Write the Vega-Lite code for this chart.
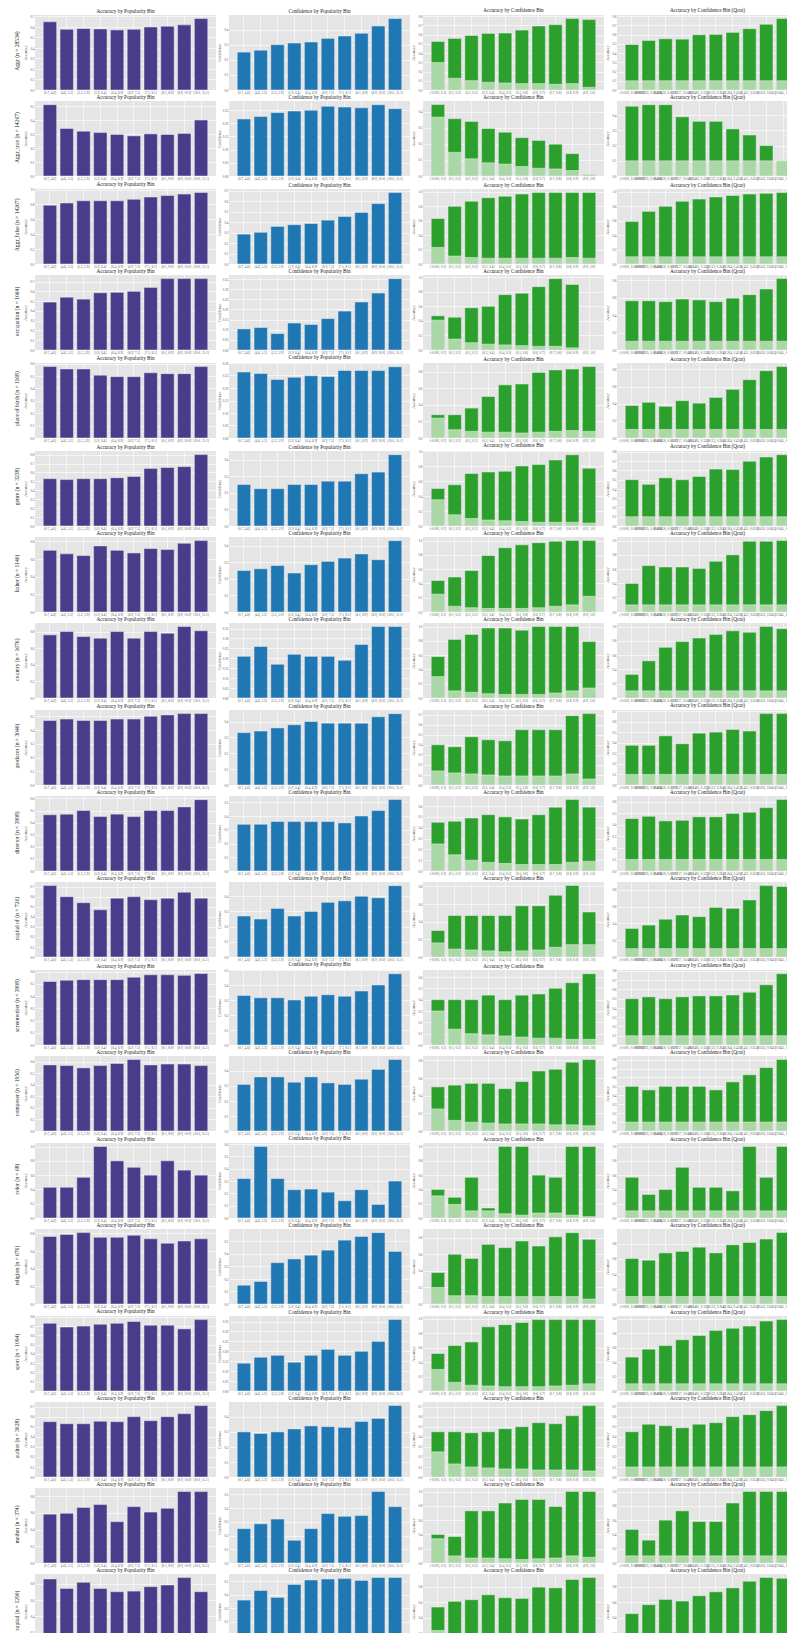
{"$schema":"https://vega.github.io/schema/vega-lite/v6.json","padding":{"left":15,"top":8,"right":0,"bottom":0},"params":[{"name":"popL","value":["(0.7, 4.6]","(4.6, 5.3]","(5.3, 5.9]","(5.9, 6.4]","(6.4, 6.9]","(6.9, 7.5]","(7.5, 8.1]","(8.1, 8.9]","(8.9, 10.0]","(10.0, 15.1]"]},{"name":"confL","value":["(-0.001, 0.1]","(0.1, 0.2]","(0.2, 0.3]","(0.3, 0.4]","(0.4, 0.5]","(0.5, 0.6]","(0.6, 0.7]","(0.7, 0.8]","(0.8, 0.9]","(0.9, 1.0]"]},{"name":"qL","value":["(-0.001, 0.000935]","(0.000935, 0.00418]","(0.00418, 0.0157]","(0.0157, 0.0485]","(0.0485, 0.123]","(0.123, 0.264]","(0.264, 0.451]","(0.451, 0.652]","(0.652, 0.845]","(0.845, 1.0]"]}],
"data":{"values":[
{"r":1,"p":1,"i":0,"v":0.649},{"r":1,"p":1,"i":1,"v":0.578},{"r":1,"p":1,"i":2,"v":0.585},{"r":1,"p":1,"i":3,"v":0.581},{"r":1,"p":1,"i":4,"v":0.572},{"r":1,"p":1,"i":5,"v":0.578},{"r":1,"p":1,"i":6,"v":0.600},{"r":1,"p":1,"i":7,"v":0.607},{"r":1,"p":1,"i":8,"v":0.620},{"r":1,"p":1,"i":9,"v":0.680},
{"r":1,"p":2,"i":0,"v":0.251},{"r":1,"p":2,"i":1,"v":0.264},{"r":1,"p":2,"i":2,"v":0.300},{"r":1,"p":2,"i":3,"v":0.311},{"r":1,"p":2,"i":4,"v":0.318},{"r":1,"p":2,"i":5,"v":0.342},{"r":1,"p":2,"i":6,"v":0.358},{"r":1,"p":2,"i":7,"v":0.376},{"r":1,"p":2,"i":8,"v":0.424},{"r":1,"p":2,"i":9,"v":0.473},
{"r":1,"p":3,"i":0,"v":0.525,"f":0.297},{"r":1,"p":3,"i":1,"v":0.558,"f":0.127},{"r":1,"p":3,"i":2,"v":0.590,"f":0.101},{"r":1,"p":3,"i":3,"v":0.612,"f":0.083},{"r":1,"p":3,"i":4,"v":0.616,"f":0.076},{"r":1,"p":3,"i":5,"v":0.648,"f":0.069},{"r":1,"p":3,"i":6,"v":0.692,"f":0.069},{"r":1,"p":3,"i":7,"v":0.706,"f":0.062},{"r":1,"p":3,"i":8,"v":0.772,"f":0.069},{"r":1,"p":3,"i":9,"v":0.761,"f":0.029},
{"r":1,"p":4,"i":0,"v":0.492,"f":0.1},{"r":1,"p":4,"i":1,"v":0.536,"f":0.1},{"r":1,"p":4,"i":2,"v":0.554,"f":0.1},{"r":1,"p":4,"i":3,"v":0.550,"f":0.1},{"r":1,"p":4,"i":4,"v":0.597,"f":0.1},{"r":1,"p":4,"i":5,"v":0.601,"f":0.1},{"r":1,"p":4,"i":6,"v":0.623,"f":0.1},{"r":1,"p":4,"i":7,"v":0.663,"f":0.1},{"r":1,"p":4,"i":8,"v":0.710,"f":0.1},{"r":1,"p":4,"i":9,"v":0.772,"f":0.1},
{"r":2,"p":1,"i":0,"v":0.510},{"r":2,"p":1,"i":1,"v":0.340},{"r":2,"p":1,"i":2,"v":0.320},{"r":2,"p":1,"i":3,"v":0.310},{"r":2,"p":1,"i":4,"v":0.297},{"r":2,"p":1,"i":5,"v":0.287},{"r":2,"p":1,"i":6,"v":0.301},{"r":2,"p":1,"i":7,"v":0.297},{"r":2,"p":1,"i":8,"v":0.304},{"r":2,"p":1,"i":9,"v":0.400},
{"r":2,"p":2,"i":0,"v":0.216},{"r":2,"p":2,"i":1,"v":0.225},{"r":2,"p":2,"i":2,"v":0.240},{"r":2,"p":2,"i":3,"v":0.246},{"r":2,"p":2,"i":4,"v":0.249},{"r":2,"p":2,"i":5,"v":0.264},{"r":2,"p":2,"i":6,"v":0.261},{"r":2,"p":2,"i":7,"v":0.258},{"r":2,"p":2,"i":8,"v":0.270},{"r":2,"p":2,"i":9,"v":0.255},
{"r":2,"p":3,"i":0,"v":0.444,"f":0.366},{"r":2,"p":3,"i":1,"v":0.356,"f":0.147},{"r":2,"p":3,"i":2,"v":0.339,"f":0.107},{"r":2,"p":3,"i":3,"v":0.295,"f":0.082},{"r":2,"p":3,"i":4,"v":0.272,"f":0.074},{"r":2,"p":3,"i":5,"v":0.238,"f":0.059},{"r":2,"p":3,"i":6,"v":0.221,"f":0.048},{"r":2,"p":3,"i":7,"v":0.198,"f":0.044},{"r":2,"p":3,"i":8,"v":0.139,"f":0.034},{"r":2,"p":3,"i":9,"v":0.008,"f":0.010},
{"r":2,"p":4,"i":0,"v":0.46,"f":0.1},{"r":2,"p":4,"i":1,"v":0.47,"f":0.1},{"r":2,"p":4,"i":2,"v":0.47,"f":0.1},{"r":2,"p":4,"i":3,"v":0.39,"f":0.1},{"r":2,"p":4,"i":4,"v":0.36,"f":0.1},{"r":2,"p":4,"i":5,"v":0.36,"f":0.1},{"r":2,"p":4,"i":6,"v":0.31,"f":0.1},{"r":2,"p":4,"i":7,"v":0.27,"f":0.1},{"r":2,"p":4,"i":8,"v":0.20,"f":0.1},{"r":2,"p":4,"i":9,"v":0.09,"f":0.1},
{"r":3,"p":1,"i":0,"v":0.79},{"r":3,"p":1,"i":1,"v":0.82},{"r":3,"p":1,"i":2,"v":0.85},{"r":3,"p":1,"i":3,"v":0.85},{"r":3,"p":1,"i":4,"v":0.85},{"r":3,"p":1,"i":5,"v":0.87},{"r":3,"p":1,"i":6,"v":0.90},{"r":3,"p":1,"i":7,"v":0.92},{"r":3,"p":1,"i":8,"v":0.94},{"r":3,"p":1,"i":9,"v":0.96},
{"r":3,"p":2,"i":0,"v":0.286},{"r":3,"p":2,"i":1,"v":0.303},{"r":3,"p":2,"i":2,"v":0.360},{"r":3,"p":2,"i":3,"v":0.376},{"r":3,"p":2,"i":4,"v":0.387},{"r":3,"p":2,"i":5,"v":0.420},{"r":3,"p":2,"i":6,"v":0.455},{"r":3,"p":2,"i":7,"v":0.494},{"r":3,"p":2,"i":8,"v":0.578},{"r":3,"p":2,"i":9,"v":0.684},
{"r":3,"p":3,"i":0,"v":0.63,"f":0.23},{"r":3,"p":3,"i":1,"v":0.80,"f":0.11},{"r":3,"p":3,"i":2,"v":0.87,"f":0.09},{"r":3,"p":3,"i":3,"v":0.92,"f":0.08},{"r":3,"p":3,"i":4,"v":0.94,"f":0.08},{"r":3,"p":3,"i":5,"v":0.97,"f":0.08},{"r":3,"p":3,"i":6,"v":0.99,"f":0.08},{"r":3,"p":3,"i":7,"v":0.99,"f":0.08},{"r":3,"p":3,"i":8,"v":0.99,"f":0.09},{"r":3,"p":3,"i":9,"v":0.99,"f":0.08},
{"r":3,"p":4,"i":0,"v":0.59,"f":0.1},{"r":3,"p":4,"i":1,"v":0.73,"f":0.1},{"r":3,"p":4,"i":2,"v":0.80,"f":0.1},{"r":3,"p":4,"i":3,"v":0.87,"f":0.1},{"r":3,"p":4,"i":4,"v":0.90,"f":0.1},{"r":3,"p":4,"i":5,"v":0.93,"f":0.1},{"r":3,"p":4,"i":6,"v":0.95,"f":0.1},{"r":3,"p":4,"i":7,"v":0.97,"f":0.1},{"r":3,"p":4,"i":8,"v":0.98,"f":0.1},{"r":3,"p":4,"i":9,"v":0.99,"f":0.1},
{"r":4,"p":1,"i":0,"v":0.49},{"r":4,"p":1,"i":1,"v":0.54},{"r":4,"p":1,"i":2,"v":0.52},{"r":4,"p":1,"i":3,"v":0.585},{"r":4,"p":1,"i":4,"v":0.59},{"r":4,"p":1,"i":5,"v":0.60},{"r":4,"p":1,"i":6,"v":0.64},{"r":4,"p":1,"i":7,"v":0.73},{"r":4,"p":1,"i":8,"v":0.73},{"r":4,"p":1,"i":9,"v":0.73},
{"r":4,"p":2,"i":0,"v":0.104},{"r":4,"p":2,"i":1,"v":0.111},{"r":4,"p":2,"i":2,"v":0.081},{"r":4,"p":2,"i":3,"v":0.133},{"r":4,"p":2,"i":4,"v":0.126},{"r":4,"p":2,"i":5,"v":0.155},{"r":4,"p":2,"i":6,"v":0.192},{"r":4,"p":2,"i":7,"v":0.237},{"r":4,"p":2,"i":8,"v":0.281},{"r":4,"p":2,"i":9,"v":0.352},
{"r":4,"p":3,"i":0,"v":0.47,"f":0.41},{"r":4,"p":3,"i":1,"v":0.45,"f":0.15},{"r":4,"p":3,"i":2,"v":0.58,"f":0.10},{"r":4,"p":3,"i":3,"v":0.60,"f":0.08},{"r":4,"p":3,"i":4,"v":0.76,"f":0.07},{"r":4,"p":3,"i":5,"v":0.78,"f":0.06},{"r":4,"p":3,"i":6,"v":0.87,"f":0.05},{"r":4,"p":3,"i":7,"v":0.98,"f":0.05},{"r":4,"p":3,"i":8,"v":0.90,"f":0.03},{"r":4,"p":3,"i":9,"v":0,"f":0},
{"r":4,"p":4,"i":0,"v":0.565,"f":0.1},{"r":4,"p":4,"i":1,"v":0.565,"f":0.1},{"r":4,"p":4,"i":2,"v":0.555,"f":0.1},{"r":4,"p":4,"i":3,"v":0.585,"f":0.1},{"r":4,"p":4,"i":4,"v":0.575,"f":0.1},{"r":4,"p":4,"i":5,"v":0.555,"f":0.1},{"r":4,"p":4,"i":6,"v":0.595,"f":0.1},{"r":4,"p":4,"i":7,"v":0.635,"f":0.1},{"r":4,"p":4,"i":8,"v":0.70,"f":0.1},{"r":4,"p":4,"i":9,"v":0.82,"f":0.1},
{"r":5,"p":1,"i":0,"v":0.577},{"r":5,"p":1,"i":1,"v":0.558},{"r":5,"p":1,"i":2,"v":0.558},{"r":5,"p":1,"i":3,"v":0.508},{"r":5,"p":1,"i":4,"v":0.496},{"r":5,"p":1,"i":5,"v":0.496},{"r":5,"p":1,"i":6,"v":0.527},{"r":5,"p":1,"i":7,"v":0.52},{"r":5,"p":1,"i":8,"v":0.52},{"r":5,"p":1,"i":9,"v":0.577},
{"r":5,"p":2,"i":0,"v":0.264},{"r":5,"p":2,"i":1,"v":0.258},{"r":5,"p":2,"i":2,"v":0.234},{"r":5,"p":2,"i":3,"v":0.243},{"r":5,"p":2,"i":4,"v":0.249},{"r":5,"p":2,"i":5,"v":0.246},{"r":5,"p":2,"i":6,"v":0.27},{"r":5,"p":2,"i":7,"v":0.27},{"r":5,"p":2,"i":8,"v":0.27},{"r":5,"p":2,"i":9,"v":0.285},
{"r":5,"p":3,"i":0,"v":0.28,"f":0.24},{"r":5,"p":3,"i":1,"v":0.28,"f":0.10},{"r":5,"p":3,"i":2,"v":0.36,"f":0.08},{"r":5,"p":3,"i":3,"v":0.50,"f":0.07},{"r":5,"p":3,"i":4,"v":0.64,"f":0.07},{"r":5,"p":3,"i":5,"v":0.65,"f":0.06},{"r":5,"p":3,"i":6,"v":0.79,"f":0.07},{"r":5,"p":3,"i":7,"v":0.82,"f":0.08},{"r":5,"p":3,"i":8,"v":0.83,"f":0.09},{"r":5,"p":3,"i":9,"v":0.86,"f":0.08},
{"r":5,"p":4,"i":0,"v":0.378,"f":0.1},{"r":5,"p":4,"i":1,"v":0.416,"f":0.1},{"r":5,"p":4,"i":2,"v":0.369,"f":0.1},{"r":5,"p":4,"i":3,"v":0.435,"f":0.1},{"r":5,"p":4,"i":4,"v":0.406,"f":0.1},{"r":5,"p":4,"i":5,"v":0.473,"f":0.1},{"r":5,"p":4,"i":6,"v":0.567,"f":0.1},{"r":5,"p":4,"i":7,"v":0.68,"f":0.1},{"r":5,"p":4,"i":8,"v":0.784,"f":0.1},{"r":5,"p":4,"i":9,"v":0.832,"f":0.1},
{"r":6,"p":1,"i":0,"v":0.53},{"r":6,"p":1,"i":1,"v":0.52},{"r":6,"p":1,"i":2,"v":0.53},{"r":6,"p":1,"i":3,"v":0.53},{"r":6,"p":1,"i":4,"v":0.54},{"r":6,"p":1,"i":5,"v":0.555},{"r":6,"p":1,"i":6,"v":0.645},{"r":6,"p":1,"i":7,"v":0.655},{"r":6,"p":1,"i":8,"v":0.665},{"r":6,"p":1,"i":9,"v":0.80},
{"r":6,"p":2,"i":0,"v":0.25},{"r":6,"p":2,"i":1,"v":0.225},{"r":6,"p":2,"i":2,"v":0.225},{"r":6,"p":2,"i":3,"v":0.25},{"r":6,"p":2,"i":4,"v":0.25},{"r":6,"p":2,"i":5,"v":0.27},{"r":6,"p":2,"i":6,"v":0.27},{"r":6,"p":2,"i":7,"v":0.315},{"r":6,"p":2,"i":8,"v":0.325},{"r":6,"p":2,"i":9,"v":0.43},
{"r":6,"p":3,"i":0,"v":0.50,"f":0.35},{"r":6,"p":3,"i":1,"v":0.55,"f":0.15},{"r":6,"p":3,"i":2,"v":0.70,"f":0.10},{"r":6,"p":3,"i":3,"v":0.72,"f":0.08},{"r":6,"p":3,"i":4,"v":0.73,"f":0.07},{"r":6,"p":3,"i":5,"v":0.80,"f":0.06},{"r":6,"p":3,"i":6,"v":0.82,"f":0.05},{"r":6,"p":3,"i":7,"v":0.88,"f":0.05},{"r":6,"p":3,"i":8,"v":0.95,"f":0.05},{"r":6,"p":3,"i":9,"v":0.77,"f":0.04},
{"r":6,"p":4,"i":0,"v":0.50,"f":0.1},{"r":6,"p":4,"i":1,"v":0.45,"f":0.1},{"r":6,"p":4,"i":2,"v":0.52,"f":0.1},{"r":6,"p":4,"i":3,"v":0.50,"f":0.1},{"r":6,"p":4,"i":4,"v":0.535,"f":0.1},{"r":6,"p":4,"i":5,"v":0.615,"f":0.1},{"r":6,"p":4,"i":6,"v":0.61,"f":0.1},{"r":6,"p":4,"i":7,"v":0.70,"f":0.1},{"r":6,"p":4,"i":8,"v":0.745,"f":0.1},{"r":6,"p":4,"i":9,"v":0.77,"f":0.1},
{"r":7,"p":1,"i":0,"v":0.70},{"r":7,"p":1,"i":1,"v":0.66},{"r":7,"p":1,"i":2,"v":0.64},{"r":7,"p":1,"i":3,"v":0.75},{"r":7,"p":1,"i":4,"v":0.70},{"r":7,"p":1,"i":5,"v":0.67},{"r":7,"p":1,"i":6,"v":0.72},{"r":7,"p":1,"i":7,"v":0.71},{"r":7,"p":1,"i":8,"v":0.78},{"r":7,"p":1,"i":9,"v":0.81},
{"r":7,"p":2,"i":0,"v":0.25},{"r":7,"p":2,"i":1,"v":0.26},{"r":7,"p":2,"i":2,"v":0.28},{"r":7,"p":2,"i":3,"v":0.235},{"r":7,"p":2,"i":4,"v":0.285},{"r":7,"p":2,"i":5,"v":0.305},{"r":7,"p":2,"i":6,"v":0.325},{"r":7,"p":2,"i":7,"v":0.35},{"r":7,"p":2,"i":8,"v":0.315},{"r":7,"p":2,"i":9,"v":0.43},
{"r":7,"p":3,"i":0,"v":0.44,"f":0.25},{"r":7,"p":3,"i":1,"v":0.49,"f":0.08},{"r":7,"p":3,"i":2,"v":0.58,"f":0.06},{"r":7,"p":3,"i":3,"v":0.79,"f":0.05},{"r":7,"p":3,"i":4,"v":0.90,"f":0.05},{"r":7,"p":3,"i":5,"v":0.94,"f":0.05},{"r":7,"p":3,"i":6,"v":0.97,"f":0.06},{"r":7,"p":3,"i":7,"v":0.99,"f":0.08},{"r":7,"p":3,"i":8,"v":1.0,"f":0.1},{"r":7,"p":3,"i":9,"v":1.0,"f":0.22},
{"r":7,"p":4,"i":0,"v":0.40,"f":0.1},{"r":7,"p":4,"i":1,"v":0.65,"f":0.1},{"r":7,"p":4,"i":2,"v":0.63,"f":0.1},{"r":7,"p":4,"i":3,"v":0.63,"f":0.1},{"r":7,"p":4,"i":4,"v":0.61,"f":0.1},{"r":7,"p":4,"i":5,"v":0.71,"f":0.1},{"r":7,"p":4,"i":6,"v":0.80,"f":0.1},{"r":7,"p":4,"i":7,"v":0.99,"f":0.1},{"r":7,"p":4,"i":8,"v":0.99,"f":0.1},{"r":7,"p":4,"i":9,"v":1.0,"f":0.1},
{"r":8,"p":1,"i":0,"v":0.76},{"r":8,"p":1,"i":1,"v":0.80},{"r":8,"p":1,"i":2,"v":0.74},{"r":8,"p":1,"i":3,"v":0.72},{"r":8,"p":1,"i":4,"v":0.80},{"r":8,"p":1,"i":5,"v":0.72},{"r":8,"p":1,"i":6,"v":0.80},{"r":8,"p":1,"i":7,"v":0.78},{"r":8,"p":1,"i":8,"v":0.86},{"r":8,"p":1,"i":9,"v":0.81},
{"r":8,"p":2,"i":0,"v":0.21},{"r":8,"p":2,"i":1,"v":0.26},{"r":8,"p":2,"i":2,"v":0.17},{"r":8,"p":2,"i":3,"v":0.22},{"r":8,"p":2,"i":4,"v":0.21},{"r":8,"p":2,"i":5,"v":0.21},{"r":8,"p":2,"i":6,"v":0.19},{"r":8,"p":2,"i":7,"v":0.27},{"r":8,"p":2,"i":8,"v":0.36},{"r":8,"p":2,"i":9,"v":0.36},
{"r":8,"p":3,"i":0,"v":0.58,"f":0.30},{"r":8,"p":3,"i":1,"v":0.82,"f":0.10},{"r":8,"p":3,"i":2,"v":0.89,"f":0.08},{"r":8,"p":3,"i":3,"v":0.98,"f":0.06},{"r":8,"p":3,"i":4,"v":0.98,"f":0.05},{"r":8,"p":3,"i":5,"v":0.95,"f":0.05},{"r":8,"p":3,"i":6,"v":1.0,"f":0.05},{"r":8,"p":3,"i":7,"v":1.0,"f":0.07},{"r":8,"p":3,"i":8,"v":1.0,"f":0.10},{"r":8,"p":3,"i":9,"v":0.79,"f":0.14},
{"r":8,"p":4,"i":0,"v":0.33,"f":0.1},{"r":8,"p":4,"i":1,"v":0.52,"f":0.1},{"r":8,"p":4,"i":2,"v":0.71,"f":0.1},{"r":8,"p":4,"i":3,"v":0.79,"f":0.1},{"r":8,"p":4,"i":4,"v":0.84,"f":0.1},{"r":8,"p":4,"i":5,"v":0.89,"f":0.1},{"r":8,"p":4,"i":6,"v":0.94,"f":0.1},{"r":8,"p":4,"i":7,"v":0.92,"f":0.1},{"r":8,"p":4,"i":8,"v":1.0,"f":0.1},{"r":8,"p":4,"i":9,"v":0.97,"f":0.1},
{"r":9,"p":1,"i":0,"v":0.47},{"r":9,"p":1,"i":1,"v":0.48},{"r":9,"p":1,"i":2,"v":0.47},{"r":9,"p":1,"i":3,"v":0.47},{"r":9,"p":1,"i":4,"v":0.48},{"r":9,"p":1,"i":5,"v":0.48},{"r":9,"p":1,"i":6,"v":0.50},{"r":9,"p":1,"i":7,"v":0.51},{"r":9,"p":1,"i":8,"v":0.52},{"r":9,"p":1,"i":9,"v":0.52},
{"r":9,"p":2,"i":0,"v":0.33},{"r":9,"p":2,"i":1,"v":0.34},{"r":9,"p":2,"i":2,"v":0.36},{"r":9,"p":2,"i":3,"v":0.38},{"r":9,"p":2,"i":4,"v":0.40},{"r":9,"p":2,"i":5,"v":0.39},{"r":9,"p":2,"i":6,"v":0.39},{"r":9,"p":2,"i":7,"v":0.39},{"r":9,"p":2,"i":8,"v":0.43},{"r":9,"p":2,"i":9,"v":0.45},
{"r":9,"p":3,"i":0,"v":0.40,"f":0.14},{"r":9,"p":3,"i":1,"v":0.38,"f":0.12},{"r":9,"p":3,"i":2,"v":0.48,"f":0.11},{"r":9,"p":3,"i":3,"v":0.45,"f":0.10},{"r":9,"p":3,"i":4,"v":0.44,"f":0.09},{"r":9,"p":3,"i":5,"v":0.55,"f":0.09},{"r":9,"p":3,"i":6,"v":0.55,"f":0.09},{"r":9,"p":3,"i":7,"v":0.55,"f":0.09},{"r":9,"p":3,"i":8,"v":0.69,"f":0.11},{"r":9,"p":3,"i":9,"v":0.71,"f":0.06},
{"r":9,"p":4,"i":0,"v":0.375,"f":0.1},{"r":9,"p":4,"i":1,"v":0.375,"f":0.1},{"r":9,"p":4,"i":2,"v":0.465,"f":0.1},{"r":9,"p":4,"i":3,"v":0.39,"f":0.1},{"r":9,"p":4,"i":4,"v":0.49,"f":0.1},{"r":9,"p":4,"i":5,"v":0.50,"f":0.1},{"r":9,"p":4,"i":6,"v":0.525,"f":0.1},{"r":9,"p":4,"i":7,"v":0.51,"f":0.1},{"r":9,"p":4,"i":8,"v":0.675,"f":0.1},{"r":9,"p":4,"i":9,"v":0.675,"f":0.1},
{"r":10,"p":1,"i":0,"v":0.465},{"r":10,"p":1,"i":1,"v":0.47},{"r":10,"p":1,"i":2,"v":0.50},{"r":10,"p":1,"i":3,"v":0.45},{"r":10,"p":1,"i":4,"v":0.47},{"r":10,"p":1,"i":5,"v":0.45},{"r":10,"p":1,"i":6,"v":0.50},{"r":10,"p":1,"i":7,"v":0.50},{"r":10,"p":1,"i":8,"v":0.53},{"r":10,"p":1,"i":9,"v":0.59},
{"r":10,"p":2,"i":0,"v":0.34},{"r":10,"p":2,"i":1,"v":0.34},{"r":10,"p":2,"i":2,"v":0.36},{"r":10,"p":2,"i":3,"v":0.36},{"r":10,"p":2,"i":4,"v":0.36},{"r":10,"p":2,"i":5,"v":0.36},{"r":10,"p":2,"i":6,"v":0.35},{"r":10,"p":2,"i":7,"v":0.40},{"r":10,"p":2,"i":8,"v":0.44},{"r":10,"p":2,"i":9,"v":0.52},
{"r":10,"p":3,"i":0,"v":0.45,"f":0.25},{"r":10,"p":3,"i":1,"v":0.46,"f":0.15},{"r":10,"p":3,"i":2,"v":0.49,"f":0.10},{"r":10,"p":3,"i":3,"v":0.52,"f":0.08},{"r":10,"p":3,"i":4,"v":0.50,"f":0.07},{"r":10,"p":3,"i":5,"v":0.48,"f":0.06},{"r":10,"p":3,"i":6,"v":0.52,"f":0.06},{"r":10,"p":3,"i":7,"v":0.59,"f":0.06},{"r":10,"p":3,"i":8,"v":0.66,"f":0.08},{"r":10,"p":3,"i":9,"v":0.59,"f":0.09},
{"r":10,"p":4,"i":0,"v":0.455,"f":0.1},{"r":10,"p":4,"i":1,"v":0.475,"f":0.1},{"r":10,"p":4,"i":2,"v":0.435,"f":0.1},{"r":10,"p":4,"i":3,"v":0.44,"f":0.1},{"r":10,"p":4,"i":4,"v":0.47,"f":0.1},{"r":10,"p":4,"i":5,"v":0.47,"f":0.1},{"r":10,"p":4,"i":6,"v":0.50,"f":0.1},{"r":10,"p":4,"i":7,"v":0.51,"f":0.1},{"r":10,"p":4,"i":8,"v":0.55,"f":0.1},{"r":10,"p":4,"i":9,"v":0.62,"f":0.1},
{"r":11,"p":1,"i":0,"v":0.71},{"r":11,"p":1,"i":1,"v":0.60},{"r":11,"p":1,"i":2,"v":0.54},{"r":11,"p":1,"i":3,"v":0.47},{"r":11,"p":1,"i":4,"v":0.585},{"r":11,"p":1,"i":5,"v":0.60},{"r":11,"p":1,"i":6,"v":0.57},{"r":11,"p":1,"i":7,"v":0.585},{"r":11,"p":1,"i":8,"v":0.645},{"r":11,"p":1,"i":9,"v":0.585},
{"r":11,"p":2,"i":0,"v":0.27},{"r":11,"p":2,"i":1,"v":0.25},{"r":11,"p":2,"i":2,"v":0.32},{"r":11,"p":2,"i":3,"v":0.27},{"r":11,"p":2,"i":4,"v":0.30},{"r":11,"p":2,"i":5,"v":0.36},{"r":11,"p":2,"i":6,"v":0.37},{"r":11,"p":2,"i":7,"v":0.40},{"r":11,"p":2,"i":8,"v":0.39},{"r":11,"p":2,"i":9,"v":0.47},
{"r":11,"p":3,"i":0,"v":0.30,"f":0.16},{"r":11,"p":3,"i":1,"v":0.47,"f":0.09},{"r":11,"p":3,"i":2,"v":0.47,"f":0.08},{"r":11,"p":3,"i":3,"v":0.47,"f":0.07},{"r":11,"p":3,"i":4,"v":0.47,"f":0.06},{"r":11,"p":3,"i":5,"v":0.58,"f":0.07},{"r":11,"p":3,"i":6,"v":0.58,"f":0.08},{"r":11,"p":3,"i":7,"v":0.70,"f":0.11},{"r":11,"p":3,"i":8,"v":0.81,"f":0.14},{"r":11,"p":3,"i":9,"v":0.51,"f":0.14},
{"r":11,"p":4,"i":0,"v":0.34,"f":0.1},{"r":11,"p":4,"i":1,"v":0.38,"f":0.1},{"r":11,"p":4,"i":2,"v":0.45,"f":0.1},{"r":11,"p":4,"i":3,"v":0.50,"f":0.1},{"r":11,"p":4,"i":4,"v":0.48,"f":0.1},{"r":11,"p":4,"i":5,"v":0.59,"f":0.1},{"r":11,"p":4,"i":6,"v":0.58,"f":0.1},{"r":11,"p":4,"i":7,"v":0.68,"f":0.1},{"r":11,"p":4,"i":8,"v":0.85,"f":0.1},{"r":11,"p":4,"i":9,"v":0.84,"f":0.1},
{"r":12,"p":1,"i":0,"v":0.52},{"r":12,"p":1,"i":1,"v":0.53},{"r":12,"p":1,"i":2,"v":0.535},{"r":12,"p":1,"i":3,"v":0.535},{"r":12,"p":1,"i":4,"v":0.535},{"r":12,"p":1,"i":5,"v":0.555},{"r":12,"p":1,"i":6,"v":0.575},{"r":12,"p":1,"i":7,"v":0.575},{"r":12,"p":1,"i":8,"v":0.57},{"r":12,"p":1,"i":9,"v":0.585},
{"r":12,"p":2,"i":0,"v":0.33},{"r":12,"p":2,"i":1,"v":0.315},{"r":12,"p":2,"i":2,"v":0.315},{"r":12,"p":2,"i":3,"v":0.30},{"r":12,"p":2,"i":4,"v":0.325},{"r":12,"p":2,"i":5,"v":0.335},{"r":12,"p":2,"i":6,"v":0.325},{"r":12,"p":2,"i":7,"v":0.36},{"r":12,"p":2,"i":8,"v":0.40},{"r":12,"p":2,"i":9,"v":0.475},
{"r":12,"p":3,"i":0,"v":0.40,"f":0.30},{"r":12,"p":3,"i":1,"v":0.40,"f":0.14},{"r":12,"p":3,"i":2,"v":0.40,"f":0.10},{"r":12,"p":3,"i":3,"v":0.44,"f":0.09},{"r":12,"p":3,"i":4,"v":0.40,"f":0.08},{"r":12,"p":3,"i":5,"v":0.44,"f":0.07},{"r":12,"p":3,"i":6,"v":0.45,"f":0.06},{"r":12,"p":3,"i":7,"v":0.50,"f":0.06},{"r":12,"p":3,"i":8,"v":0.55,"f":0.05},{"r":12,"p":3,"i":9,"v":0.63,"f":0.05},
{"r":12,"p":4,"i":0,"v":0.50,"f":0.1},{"r":12,"p":4,"i":1,"v":0.52,"f":0.1},{"r":12,"p":4,"i":2,"v":0.50,"f":0.1},{"r":12,"p":4,"i":3,"v":0.52,"f":0.1},{"r":12,"p":4,"i":4,"v":0.53,"f":0.1},{"r":12,"p":4,"i":5,"v":0.53,"f":0.1},{"r":12,"p":4,"i":6,"v":0.54,"f":0.1},{"r":12,"p":4,"i":7,"v":0.57,"f":0.1},{"r":12,"p":4,"i":8,"v":0.65,"f":0.1},{"r":12,"p":4,"i":9,"v":0.77,"f":0.1},
{"r":13,"p":1,"i":0,"v":0.572},{"r":13,"p":1,"i":1,"v":0.566},{"r":13,"p":1,"i":2,"v":0.546},{"r":13,"p":1,"i":3,"v":0.566},{"r":13,"p":1,"i":4,"v":0.585},{"r":13,"p":1,"i":5,"v":0.618},{"r":13,"p":1,"i":6,"v":0.572},{"r":13,"p":1,"i":7,"v":0.579},{"r":13,"p":1,"i":8,"v":0.579},{"r":13,"p":1,"i":9,"v":0.566},
{"r":13,"p":2,"i":0,"v":0.31},{"r":13,"p":2,"i":1,"v":0.36},{"r":13,"p":2,"i":2,"v":0.36},{"r":13,"p":2,"i":3,"v":0.325},{"r":13,"p":2,"i":4,"v":0.36},{"r":13,"p":2,"i":5,"v":0.32},{"r":13,"p":2,"i":6,"v":0.31},{"r":13,"p":2,"i":7,"v":0.345},{"r":13,"p":2,"i":8,"v":0.41},{"r":13,"p":2,"i":9,"v":0.475},
{"r":13,"p":3,"i":0,"v":0.50,"f":0.25},{"r":13,"p":3,"i":1,"v":0.52,"f":0.12},{"r":13,"p":3,"i":2,"v":0.54,"f":0.10},{"r":13,"p":3,"i":3,"v":0.54,"f":0.09},{"r":13,"p":3,"i":4,"v":0.48,"f":0.08},{"r":13,"p":3,"i":5,"v":0.56,"f":0.08},{"r":13,"p":3,"i":6,"v":0.68,"f":0.08},{"r":13,"p":3,"i":7,"v":0.70,"f":0.07},{"r":13,"p":3,"i":8,"v":0.78,"f":0.07},{"r":13,"p":3,"i":9,"v":0.81,"f":0.06},
{"r":13,"p":4,"i":0,"v":0.50,"f":0.1},{"r":13,"p":4,"i":1,"v":0.46,"f":0.1},{"r":13,"p":4,"i":2,"v":0.50,"f":0.1},{"r":13,"p":4,"i":3,"v":0.50,"f":0.1},{"r":13,"p":4,"i":4,"v":0.50,"f":0.1},{"r":13,"p":4,"i":5,"v":0.46,"f":0.1},{"r":13,"p":4,"i":6,"v":0.55,"f":0.1},{"r":13,"p":4,"i":7,"v":0.63,"f":0.1},{"r":13,"p":4,"i":8,"v":0.71,"f":0.1},{"r":13,"p":4,"i":9,"v":0.80,"f":0.1},
{"r":14,"p":1,"i":0,"v":0.43},{"r":14,"p":1,"i":1,"v":0.43},{"r":14,"p":1,"i":2,"v":0.57},{"r":14,"p":1,"i":3,"v":1.0},{"r":14,"p":1,"i":4,"v":0.80},{"r":14,"p":1,"i":5,"v":0.71},{"r":14,"p":1,"i":6,"v":0.60},{"r":14,"p":1,"i":7,"v":0.80},{"r":14,"p":1,"i":8,"v":0.67},{"r":14,"p":1,"i":9,"v":0.60},
{"r":14,"p":2,"i":0,"v":0.32},{"r":14,"p":2,"i":1,"v":0.58},{"r":14,"p":2,"i":2,"v":0.32},{"r":14,"p":2,"i":3,"v":0.23},{"r":14,"p":2,"i":4,"v":0.235},{"r":14,"p":2,"i":5,"v":0.21},{"r":14,"p":2,"i":6,"v":0.14},{"r":14,"p":2,"i":7,"v":0.23},{"r":14,"p":2,"i":8,"v":0.11},{"r":14,"p":2,"i":9,"v":0.30},
{"r":14,"p":3,"i":0,"v":0.40,"f":0.31},{"r":14,"p":3,"i":1,"v":0.29,"f":0.19},{"r":14,"p":3,"i":2,"v":0.57,"f":0.10},{"r":14,"p":3,"i":3,"v":0.14,"f":0.10},{"r":14,"p":3,"i":4,"v":1.0,"f":0.06},{"r":14,"p":3,"i":5,"v":1.0,"f":0.04},{"r":14,"p":3,"i":6,"v":0.60,"f":0.07},{"r":14,"p":3,"i":7,"v":0.57,"f":0.07},{"r":14,"p":3,"i":8,"v":1.0,"f":0.04},{"r":14,"p":3,"i":9,"v":1.0,"f":0.02},
{"r":14,"p":4,"i":0,"v":0.57,"f":0.1},{"r":14,"p":4,"i":1,"v":0.33,"f":0.1},{"r":14,"p":4,"i":2,"v":0.40,"f":0.1},{"r":14,"p":4,"i":3,"v":0.71,"f":0.1},{"r":14,"p":4,"i":4,"v":0.43,"f":0.1},{"r":14,"p":4,"i":5,"v":0.43,"f":0.1},{"r":14,"p":4,"i":6,"v":0.38,"f":0.1},{"r":14,"p":4,"i":7,"v":1.0,"f":0.1},{"r":14,"p":4,"i":8,"v":0.57,"f":0.1},{"r":14,"p":4,"i":9,"v":1.0,"f":0.1},
{"r":15,"p":1,"i":0,"v":0.766},{"r":15,"p":1,"i":1,"v":0.79},{"r":15,"p":1,"i":2,"v":0.81},{"r":15,"p":1,"i":3,"v":0.757},{"r":15,"p":1,"i":4,"v":0.757},{"r":15,"p":1,"i":5,"v":0.78},{"r":15,"p":1,"i":6,"v":0.74},{"r":15,"p":1,"i":7,"v":0.69},{"r":15,"p":1,"i":8,"v":0.715},{"r":15,"p":1,"i":9,"v":0.74},
{"r":15,"p":2,"i":0,"v":0.15},{"r":15,"p":2,"i":1,"v":0.18},{"r":15,"p":2,"i":2,"v":0.33},{"r":15,"p":2,"i":3,"v":0.36},{"r":15,"p":2,"i":4,"v":0.39},{"r":15,"p":2,"i":5,"v":0.43},{"r":15,"p":2,"i":6,"v":0.51},{"r":15,"p":2,"i":7,"v":0.54},{"r":15,"p":2,"i":8,"v":0.57},{"r":15,"p":2,"i":9,"v":0.42},
{"r":15,"p":3,"i":0,"v":0.38,"f":0.20},{"r":15,"p":3,"i":1,"v":0.60,"f":0.10},{"r":15,"p":3,"i":2,"v":0.55,"f":0.10},{"r":15,"p":3,"i":3,"v":0.72,"f":0.09},{"r":15,"p":3,"i":4,"v":0.68,"f":0.09},{"r":15,"p":3,"i":5,"v":0.76,"f":0.09},{"r":15,"p":3,"i":6,"v":0.70,"f":0.09},{"r":15,"p":3,"i":7,"v":0.81,"f":0.09},{"r":15,"p":3,"i":8,"v":0.86,"f":0.09},{"r":15,"p":3,"i":9,"v":0.78,"f":0.06},
{"r":15,"p":4,"i":0,"v":0.605,"f":0.1},{"r":15,"p":4,"i":1,"v":0.583,"f":0.1},{"r":15,"p":4,"i":2,"v":0.68,"f":0.1},{"r":15,"p":4,"i":3,"v":0.70,"f":0.1},{"r":15,"p":4,"i":4,"v":0.756,"f":0.1},{"r":15,"p":4,"i":5,"v":0.68,"f":0.1},{"r":15,"p":4,"i":6,"v":0.788,"f":0.1},{"r":15,"p":4,"i":7,"v":0.82,"f":0.1},{"r":15,"p":4,"i":8,"v":0.864,"f":0.1},{"r":15,"p":4,"i":9,"v":0.95,"f":0.1},
{"r":16,"p":1,"i":0,"v":0.73},{"r":16,"p":1,"i":1,"v":0.69},{"r":16,"p":1,"i":2,"v":0.70},{"r":16,"p":1,"i":3,"v":0.72},{"r":16,"p":1,"i":4,"v":0.73},{"r":16,"p":1,"i":5,"v":0.75},{"r":16,"p":1,"i":6,"v":0.71},{"r":16,"p":1,"i":7,"v":0.71},{"r":16,"p":1,"i":8,"v":0.67},{"r":16,"p":1,"i":9,"v":0.77},
{"r":16,"p":2,"i":0,"v":0.14},{"r":16,"p":2,"i":1,"v":0.17},{"r":16,"p":2,"i":2,"v":0.18},{"r":16,"p":2,"i":3,"v":0.145},{"r":16,"p":2,"i":4,"v":0.18},{"r":16,"p":2,"i":5,"v":0.21},{"r":16,"p":2,"i":6,"v":0.18},{"r":16,"p":2,"i":7,"v":0.20},{"r":16,"p":2,"i":8,"v":0.25},{"r":16,"p":2,"i":9,"v":0.36},
{"r":16,"p":3,"i":0,"v":0.52,"f":0.30},{"r":16,"p":3,"i":1,"v":0.63,"f":0.12},{"r":16,"p":3,"i":2,"v":0.68,"f":0.08},{"r":16,"p":3,"i":3,"v":0.89,"f":0.07},{"r":16,"p":3,"i":4,"v":0.92,"f":0.06},{"r":16,"p":3,"i":5,"v":0.95,"f":0.06},{"r":16,"p":3,"i":6,"v":0.99,"f":0.06},{"r":16,"p":3,"i":7,"v":0.99,"f":0.07},{"r":16,"p":3,"i":8,"v":0.99,"f":0.08},{"r":16,"p":3,"i":9,"v":0.99,"f":0.10},
{"r":16,"p":4,"i":0,"v":0.47,"f":0.1},{"r":16,"p":4,"i":1,"v":0.58,"f":0.1},{"r":16,"p":4,"i":2,"v":0.63,"f":0.1},{"r":16,"p":4,"i":3,"v":0.71,"f":0.1},{"r":16,"p":4,"i":4,"v":0.77,"f":0.1},{"r":16,"p":4,"i":5,"v":0.84,"f":0.1},{"r":16,"p":4,"i":6,"v":0.87,"f":0.1},{"r":16,"p":4,"i":7,"v":0.90,"f":0.1},{"r":16,"p":4,"i":8,"v":0.97,"f":0.1},{"r":16,"p":4,"i":9,"v":0.99,"f":0.1},
{"r":17,"p":1,"i":0,"v":0.55},{"r":17,"p":1,"i":1,"v":0.53},{"r":17,"p":1,"i":2,"v":0.53},{"r":17,"p":1,"i":3,"v":0.555},{"r":17,"p":1,"i":4,"v":0.55},{"r":17,"p":1,"i":5,"v":0.60},{"r":17,"p":1,"i":6,"v":0.56},{"r":17,"p":1,"i":7,"v":0.60},{"r":17,"p":1,"i":8,"v":0.63},{"r":17,"p":1,"i":9,"v":0.71},
{"r":17,"p":2,"i":0,"v":0.30},{"r":17,"p":2,"i":1,"v":0.29},{"r":17,"p":2,"i":2,"v":0.30},{"r":17,"p":2,"i":3,"v":0.32},{"r":17,"p":2,"i":4,"v":0.34},{"r":17,"p":2,"i":5,"v":0.335},{"r":17,"p":2,"i":6,"v":0.33},{"r":17,"p":2,"i":7,"v":0.37},{"r":17,"p":2,"i":8,"v":0.39},{"r":17,"p":2,"i":9,"v":0.475},
{"r":17,"p":3,"i":0,"v":0.45,"f":0.25},{"r":17,"p":3,"i":1,"v":0.45,"f":0.13},{"r":17,"p":3,"i":2,"v":0.44,"f":0.10},{"r":17,"p":3,"i":3,"v":0.45,"f":0.09},{"r":17,"p":3,"i":4,"v":0.48,"f":0.08},{"r":17,"p":3,"i":5,"v":0.50,"f":0.08},{"r":17,"p":3,"i":6,"v":0.54,"f":0.07},{"r":17,"p":3,"i":7,"v":0.53,"f":0.07},{"r":17,"p":3,"i":8,"v":0.61,"f":0.07},{"r":17,"p":3,"i":9,"v":0.71,"f":0.06},
{"r":17,"p":4,"i":0,"v":0.45,"f":0.1},{"r":17,"p":4,"i":1,"v":0.525,"f":0.1},{"r":17,"p":4,"i":2,"v":0.51,"f":0.1},{"r":17,"p":4,"i":3,"v":0.49,"f":0.1},{"r":17,"p":4,"i":4,"v":0.525,"f":0.1},{"r":17,"p":4,"i":5,"v":0.54,"f":0.1},{"r":17,"p":4,"i":6,"v":0.60,"f":0.1},{"r":17,"p":4,"i":7,"v":0.62,"f":0.1},{"r":17,"p":4,"i":8,"v":0.66,"f":0.1},{"r":17,"p":4,"i":9,"v":0.71,"f":0.1},
{"r":18,"p":1,"i":0,"v":0.585},{"r":18,"p":1,"i":1,"v":0.595},{"r":18,"p":1,"i":2,"v":0.665},{"r":18,"p":1,"i":3,"v":0.70},{"r":18,"p":1,"i":4,"v":0.495},{"r":18,"p":1,"i":5,"v":0.675},{"r":18,"p":1,"i":6,"v":0.61},{"r":18,"p":1,"i":7,"v":0.655},{"r":18,"p":1,"i":8,"v":0.855},{"r":18,"p":1,"i":9,"v":0.855},
{"r":18,"p":2,"i":0,"v":0.25},{"r":18,"p":2,"i":1,"v":0.285},{"r":18,"p":2,"i":2,"v":0.32},{"r":18,"p":2,"i":3,"v":0.165},{"r":18,"p":2,"i":4,"v":0.25},{"r":18,"p":2,"i":5,"v":0.36},{"r":18,"p":2,"i":6,"v":0.34},{"r":18,"p":2,"i":7,"v":0.345},{"r":18,"p":2,"i":8,"v":0.52},{"r":18,"p":2,"i":9,"v":0.41},
{"r":18,"p":3,"i":0,"v":0.40,"f":0.34},{"r":18,"p":3,"i":1,"v":0.37,"f":0.10},{"r":18,"p":3,"i":2,"v":0.73,"f":0.07},{"r":18,"p":3,"i":3,"v":0.73,"f":0.07},{"r":18,"p":3,"i":4,"v":0.84,"f":0.06},{"r":18,"p":3,"i":5,"v":0.89,"f":0.05},{"r":18,"p":3,"i":6,"v":0.89,"f":0.06},{"r":18,"p":3,"i":7,"v":0.79,"f":0.07},{"r":18,"p":3,"i":8,"v":1.0,"f":0.10},{"r":18,"p":3,"i":9,"v":1.0,"f":0.08},
{"r":18,"p":4,"i":0,"v":0.47,"f":0.1},{"r":18,"p":4,"i":1,"v":0.32,"f":0.1},{"r":18,"p":4,"i":2,"v":0.60,"f":0.1},{"r":18,"p":4,"i":3,"v":0.73,"f":0.1},{"r":18,"p":4,"i":4,"v":0.58,"f":0.1},{"r":18,"p":4,"i":5,"v":0.58,"f":0.1},{"r":18,"p":4,"i":6,"v":0.84,"f":0.1},{"r":18,"p":4,"i":7,"v":1.0,"f":0.1},{"r":18,"p":4,"i":8,"v":1.0,"f":0.1},{"r":18,"p":4,"i":9,"v":1.0,"f":0.1},
{"r":19,"p":1,"i":0,"v":0.861},{"r":19,"p":1,"i":1,"v":0.745},{"r":19,"p":1,"i":2,"v":0.82},{"r":19,"p":1,"i":3,"v":0.745},{"r":19,"p":1,"i":4,"v":0.704},{"r":19,"p":1,"i":5,"v":0.712},{"r":19,"p":1,"i":6,"v":0.766},{"r":19,"p":1,"i":7,"v":0.787},{"r":19,"p":1,"i":8,"v":0.878},{"r":19,"p":1,"i":9,"v":0.704},
{"r":19,"p":2,"i":0,"v":0.36},{"r":19,"p":2,"i":1,"v":0.43},{"r":19,"p":2,"i":2,"v":0.38},{"r":19,"p":2,"i":3,"v":0.475},{"r":19,"p":2,"i":4,"v":0.508},{"r":19,"p":2,"i":5,"v":0.515},{"r":19,"p":2,"i":6,"v":0.518},{"r":19,"p":2,"i":7,"v":0.505},{"r":19,"p":2,"i":8,"v":0.526},{"r":19,"p":2,"i":9,"v":0.526},
{"r":19,"p":3,"i":0,"v":0.54,"f":0.238},{"r":19,"p":3,"i":1,"v":0.613,"f":0.085},{"r":19,"p":3,"i":2,"v":0.634,"f":0.072},{"r":19,"p":3,"i":3,"v":0.698,"f":0.064},{"r":19,"p":3,"i":4,"v":0.66,"f":0.06},{"r":19,"p":3,"i":5,"v":0.651,"f":0.047},{"r":19,"p":3,"i":6,"v":0.796,"f":0.072},{"r":19,"p":3,"i":7,"v":0.787,"f":0.089},{"r":19,"p":3,"i":8,"v":0.894,"f":0.179},{"r":19,"p":3,"i":9,"v":0.919,"f":0.123},
{"r":19,"p":4,"i":0,"v":0.455,"f":0.1},{"r":19,"p":4,"i":1,"v":0.57,"f":0.1},{"r":19,"p":4,"i":2,"v":0.638,"f":0.1},{"r":19,"p":4,"i":3,"v":0.617,"f":0.1},{"r":19,"p":4,"i":4,"v":0.685,"f":0.1},{"r":19,"p":4,"i":5,"v":0.736,"f":0.1},{"r":19,"p":4,"i":6,"v":0.787,"f":0.1},{"r":19,"p":4,"i":7,"v":0.872,"f":0.1},{"r":19,"p":4,"i":8,"v":0.919,"f":0.1},{"r":19,"p":4,"i":9,"v":0.91,"f":0.1}
]},
"spacing":1,
"vconcat":[
{"title":{"text":"Aggr (n = 28534)","orient":"left","fontSize":5.6,"offset":2},"hconcat":[
{"width":181,"height":75,"title":"Accuracy by Popularity Bin","transform":[{"filter":"datum.r==1&&datum.p==1"}],"mark":{"type":"bar","color":"#483D8B"},"encoding":{"x":{"field":"i","type":"ordinal","title":null,"axis":{"labelExpr":"popL[datum.value]"}},"y":{"field":"v","type":"quantitative","title":"Accuracy","scale":{"domain":[0,0.714],"nice":false}}}},
{"width":181,"height":75,"title":"Confidence by Popularity Bin","transform":[{"filter":"datum.r==1&&datum.p==2"}],"mark":{"type":"bar","color":"#1f77b4"},"encoding":{"x":{"field":"i","type":"ordinal","title":null,"axis":{"labelExpr":"popL[datum.value]"}},"y":{"field":"v","type":"quantitative","title":"Confidence","scale":{"domain":[0,0.497],"nice":false}}}},
{"width":181,"height":75,"title":"Accuracy by Confidence Bin","transform":[{"filter":"datum.r==1&&datum.p==3"}],"encoding":{"x":{"field":"i","type":"ordinal","title":null,"axis":{"labelExpr":"confL[datum.value]"}}},"layer":[{"mark":{"type":"bar","color":"#2ca02c"},"encoding":{"y":{"field":"v","type":"quantitative","title":"Accuracy","scale":{"domain":[0,0.811],"nice":false}}}},{"mark":{"type":"bar","color":"#a9d8a6"},"encoding":{"y":{"field":"f","type":"quantitative","title":"Accuracy"}}}]},
{"width":181,"height":75,"title":"Accuracy by Confidence Bin (Qcut)","transform":[{"filter":"datum.r==1&&datum.p==4"}],"encoding":{"x":{"field":"i","type":"ordinal","title":null,"axis":{"labelExpr":"qL[datum.value]"}}},"layer":[{"mark":{"type":"bar","color":"#2ca02c"},"encoding":{"y":{"field":"v","type":"quantitative","title":"Accuracy","scale":{"domain":[0,0.811],"nice":false}}}},{"mark":{"type":"bar","color":"#a9d8a6"},"encoding":{"y":{"field":"f","type":"quantitative","title":"Accuracy"}}}]}]},
{"title":{"text":"Aggr_true (n = 14267)","orient":"left","fontSize":5.6,"offset":2},"hconcat":[
{"width":181,"height":75,"title":"Accuracy by Popularity Bin","transform":[{"filter":"datum.r==2&&datum.p==1"}],"mark":{"type":"bar","color":"#483D8B"},"encoding":{"x":{"field":"i","type":"ordinal","title":null,"axis":{"labelExpr":"popL[datum.value]"}},"y":{"field":"v","type":"quantitative","title":"Accuracy","scale":{"domain":[0,0.536],"nice":false}}}},
{"width":181,"height":75,"title":"Confidence by Popularity Bin","transform":[{"filter":"datum.r==2&&datum.p==2"}],"mark":{"type":"bar","color":"#1f77b4"},"encoding":{"x":{"field":"i","type":"ordinal","title":null,"axis":{"labelExpr":"popL[datum.value]"}},"y":{"field":"v","type":"quantitative","title":"Confidence","scale":{"domain":[0,0.284],"nice":false}}}},
{"width":181,"height":75,"title":"Accuracy by Confidence Bin","transform":[{"filter":"datum.r==2&&datum.p==3"}],"encoding":{"x":{"field":"i","type":"ordinal","title":null,"axis":{"labelExpr":"confL[datum.value]"}}},"layer":[{"mark":{"type":"bar","color":"#2ca02c"},"encoding":{"y":{"field":"v","type":"quantitative","title":"Accuracy","scale":{"domain":[0,0.466],"nice":false}}}},{"mark":{"type":"bar","color":"#a9d8a6"},"encoding":{"y":{"field":"f","type":"quantitative","title":"Accuracy"}}}]},
{"width":181,"height":75,"title":"Accuracy by Confidence Bin (Qcut)","transform":[{"filter":"datum.r==2&&datum.p==4"}],"encoding":{"x":{"field":"i","type":"ordinal","title":null,"axis":{"labelExpr":"qL[datum.value]"}}},"layer":[{"mark":{"type":"bar","color":"#2ca02c"},"encoding":{"y":{"field":"v","type":"quantitative","title":"Accuracy","scale":{"domain":[0,0.494],"nice":false}}}},{"mark":{"type":"bar","color":"#a9d8a6"},"encoding":{"y":{"field":"f","type":"quantitative","title":"Accuracy"}}}]}]},
{"title":{"text":"Aggr_false (n = 14267)","orient":"left","fontSize":5.6,"offset":2},"hconcat":[
{"width":181,"height":75,"title":"Accuracy by Popularity Bin","transform":[{"filter":"datum.r==3&&datum.p==1"}],"mark":{"type":"bar","color":"#483D8B"},"encoding":{"x":{"field":"i","type":"ordinal","title":null,"axis":{"labelExpr":"popL[datum.value]"}},"y":{"field":"v","type":"quantitative","title":"Accuracy","scale":{"domain":[0,1.008],"nice":false}}}},
{"width":181,"height":75,"title":"Confidence by Popularity Bin","transform":[{"filter":"datum.r==3&&datum.p==2"}],"mark":{"type":"bar","color":"#1f77b4"},"encoding":{"x":{"field":"i","type":"ordinal","title":null,"axis":{"labelExpr":"popL[datum.value]"}},"y":{"field":"v","type":"quantitative","title":"Confidence","scale":{"domain":[0,0.718],"nice":false}}}},
{"width":181,"height":75,"title":"Accuracy by Confidence Bin","transform":[{"filter":"datum.r==3&&datum.p==3"}],"encoding":{"x":{"field":"i","type":"ordinal","title":null,"axis":{"labelExpr":"confL[datum.value]"}}},"layer":[{"mark":{"type":"bar","color":"#2ca02c"},"encoding":{"y":{"field":"v","type":"quantitative","title":"Accuracy","scale":{"domain":[0,1.04],"nice":false}}}},{"mark":{"type":"bar","color":"#a9d8a6"},"encoding":{"y":{"field":"f","type":"quantitative","title":"Accuracy"}}}]},
{"width":181,"height":75,"title":"Accuracy by Confidence Bin (Qcut)","transform":[{"filter":"datum.r==3&&datum.p==4"}],"encoding":{"x":{"field":"i","type":"ordinal","title":null,"axis":{"labelExpr":"qL[datum.value]"}}},"layer":[{"mark":{"type":"bar","color":"#2ca02c"},"encoding":{"y":{"field":"v","type":"quantitative","title":"Accuracy","scale":{"domain":[0,1.04],"nice":false}}}},{"mark":{"type":"bar","color":"#a9d8a6"},"encoding":{"y":{"field":"f","type":"quantitative","title":"Accuracy"}}}]}]},
{"title":{"text":"occupation (n = 1064)","orient":"left","fontSize":5.6,"offset":2},"hconcat":[
{"width":181,"height":75,"title":"Accuracy by Popularity Bin","transform":[{"filter":"datum.r==4&&datum.p==1"}],"mark":{"type":"bar","color":"#483D8B"},"encoding":{"x":{"field":"i","type":"ordinal","title":null,"axis":{"labelExpr":"popL[datum.value]"}},"y":{"field":"v","type":"quantitative","title":"Accuracy","scale":{"domain":[0,0.767],"nice":false}}}},
{"width":181,"height":75,"title":"Confidence by Popularity Bin","transform":[{"filter":"datum.r==4&&datum.p==2"}],"mark":{"type":"bar","color":"#1f77b4"},"encoding":{"x":{"field":"i","type":"ordinal","title":null,"axis":{"labelExpr":"popL[datum.value]"}},"y":{"field":"v","type":"quantitative","title":"Confidence","scale":{"domain":[0,0.37],"nice":false}}}},
{"width":181,"height":75,"title":"Accuracy by Confidence Bin","transform":[{"filter":"datum.r==4&&datum.p==3"}],"encoding":{"x":{"field":"i","type":"ordinal","title":null,"axis":{"labelExpr":"confL[datum.value]"}}},"layer":[{"mark":{"type":"bar","color":"#2ca02c"},"encoding":{"y":{"field":"v","type":"quantitative","title":"Accuracy","scale":{"domain":[0,1.03],"nice":false}}}},{"mark":{"type":"bar","color":"#a9d8a6"},"encoding":{"y":{"field":"f","type":"quantitative","title":"Accuracy"}}}]},
{"width":181,"height":75,"title":"Accuracy by Confidence Bin (Qcut)","transform":[{"filter":"datum.r==4&&datum.p==4"}],"encoding":{"x":{"field":"i","type":"ordinal","title":null,"axis":{"labelExpr":"qL[datum.value]"}}},"layer":[{"mark":{"type":"bar","color":"#2ca02c"},"encoding":{"y":{"field":"v","type":"quantitative","title":"Accuracy","scale":{"domain":[0,0.861],"nice":false}}}},{"mark":{"type":"bar","color":"#a9d8a6"},"encoding":{"y":{"field":"f","type":"quantitative","title":"Accuracy"}}}]}]},
{"title":{"text":"place of birth (n = 1168)","orient":"left","fontSize":5.6,"offset":2},"hconcat":[
{"width":181,"height":75,"title":"Accuracy by Popularity Bin","transform":[{"filter":"datum.r==5&&datum.p==1"}],"mark":{"type":"bar","color":"#483D8B"},"encoding":{"x":{"field":"i","type":"ordinal","title":null,"axis":{"labelExpr":"popL[datum.value]"}},"y":{"field":"v","type":"quantitative","title":"Accuracy","scale":{"domain":[0,0.606],"nice":false}}}},
{"width":181,"height":75,"title":"Confidence by Popularity Bin","transform":[{"filter":"datum.r==5&&datum.p==2"}],"mark":{"type":"bar","color":"#1f77b4"},"encoding":{"x":{"field":"i","type":"ordinal","title":null,"axis":{"labelExpr":"popL[datum.value]"}},"y":{"field":"v","type":"quantitative","title":"Confidence","scale":{"domain":[0,0.30],"nice":false}}}},
{"width":181,"height":75,"title":"Accuracy by Confidence Bin","transform":[{"filter":"datum.r==5&&datum.p==3"}],"encoding":{"x":{"field":"i","type":"ordinal","title":null,"axis":{"labelExpr":"confL[datum.value]"}}},"layer":[{"mark":{"type":"bar","color":"#2ca02c"},"encoding":{"y":{"field":"v","type":"quantitative","title":"Accuracy","scale":{"domain":[0,0.903],"nice":false}}}},{"mark":{"type":"bar","color":"#a9d8a6"},"encoding":{"y":{"field":"f","type":"quantitative","title":"Accuracy"}}}]},
{"width":181,"height":75,"title":"Accuracy by Confidence Bin (Qcut)","transform":[{"filter":"datum.r==5&&datum.p==4"}],"encoding":{"x":{"field":"i","type":"ordinal","title":null,"axis":{"labelExpr":"qL[datum.value]"}}},"layer":[{"mark":{"type":"bar","color":"#2ca02c"},"encoding":{"y":{"field":"v","type":"quantitative","title":"Accuracy","scale":{"domain":[0,0.874],"nice":false}}}},{"mark":{"type":"bar","color":"#a9d8a6"},"encoding":{"y":{"field":"f","type":"quantitative","title":"Accuracy"}}}]}]},
{"title":{"text":"genre (n = 3238)","orient":"left","fontSize":5.6,"offset":2},"hconcat":[
{"width":181,"height":75,"title":"Accuracy by Popularity Bin","transform":[{"filter":"datum.r==6&&datum.p==1"}],"mark":{"type":"bar","color":"#483D8B"},"encoding":{"x":{"field":"i","type":"ordinal","title":null,"axis":{"labelExpr":"popL[datum.value]"}},"y":{"field":"v","type":"quantitative","title":"Accuracy","scale":{"domain":[0,0.84],"nice":false}}}},
{"width":181,"height":75,"title":"Confidence by Popularity Bin","transform":[{"filter":"datum.r==6&&datum.p==2"}],"mark":{"type":"bar","color":"#1f77b4"},"encoding":{"x":{"field":"i","type":"ordinal","title":null,"axis":{"labelExpr":"popL[datum.value]"}},"y":{"field":"v","type":"quantitative","title":"Confidence","scale":{"domain":[0,0.452],"nice":false}}}},
{"width":181,"height":75,"title":"Accuracy by Confidence Bin","transform":[{"filter":"datum.r==6&&datum.p==3"}],"encoding":{"x":{"field":"i","type":"ordinal","title":null,"axis":{"labelExpr":"confL[datum.value]"}}},"layer":[{"mark":{"type":"bar","color":"#2ca02c"},"encoding":{"y":{"field":"v","type":"quantitative","title":"Accuracy","scale":{"domain":[0,1.0],"nice":false}}}},{"mark":{"type":"bar","color":"#a9d8a6"},"encoding":{"y":{"field":"f","type":"quantitative","title":"Accuracy"}}}]},
{"width":181,"height":75,"title":"Accuracy by Confidence Bin (Qcut)","transform":[{"filter":"datum.r==6&&datum.p==4"}],"encoding":{"x":{"field":"i","type":"ordinal","title":null,"axis":{"labelExpr":"qL[datum.value]"}}},"layer":[{"mark":{"type":"bar","color":"#2ca02c"},"encoding":{"y":{"field":"v","type":"quantitative","title":"Accuracy","scale":{"domain":[0,0.81],"nice":false}}}},{"mark":{"type":"bar","color":"#a9d8a6"},"encoding":{"y":{"field":"f","type":"quantitative","title":"Accuracy"}}}]}]},
{"title":{"text":"father (n = 1140)","orient":"left","fontSize":5.6,"offset":2},"hconcat":[
{"width":181,"height":75,"title":"Accuracy by Popularity Bin","transform":[{"filter":"datum.r==7&&datum.p==1"}],"mark":{"type":"bar","color":"#483D8B"},"encoding":{"x":{"field":"i","type":"ordinal","title":null,"axis":{"labelExpr":"popL[datum.value]"}},"y":{"field":"v","type":"quantitative","title":"Accuracy","scale":{"domain":[0,0.851],"nice":false}}}},
{"width":181,"height":75,"title":"Confidence by Popularity Bin","transform":[{"filter":"datum.r==7&&datum.p==2"}],"mark":{"type":"bar","color":"#1f77b4"},"encoding":{"x":{"field":"i","type":"ordinal","title":null,"axis":{"labelExpr":"popL[datum.value]"}},"y":{"field":"v","type":"quantitative","title":"Confidence","scale":{"domain":[0,0.452],"nice":false}}}},
{"width":181,"height":75,"title":"Accuracy by Confidence Bin","transform":[{"filter":"datum.r==7&&datum.p==3"}],"encoding":{"x":{"field":"i","type":"ordinal","title":null,"axis":{"labelExpr":"confL[datum.value]"}}},"layer":[{"mark":{"type":"bar","color":"#2ca02c"},"encoding":{"y":{"field":"v","type":"quantitative","title":"Accuracy","scale":{"domain":[0,1.05],"nice":false}}}},{"mark":{"type":"bar","color":"#a9d8a6"},"encoding":{"y":{"field":"f","type":"quantitative","title":"Accuracy"}}}]},
{"width":181,"height":75,"title":"Accuracy by Confidence Bin (Qcut)","transform":[{"filter":"datum.r==7&&datum.p==4"}],"encoding":{"x":{"field":"i","type":"ordinal","title":null,"axis":{"labelExpr":"qL[datum.value]"}}},"layer":[{"mark":{"type":"bar","color":"#2ca02c"},"encoding":{"y":{"field":"v","type":"quantitative","title":"Accuracy","scale":{"domain":[0,1.05],"nice":false}}}},{"mark":{"type":"bar","color":"#a9d8a6"},"encoding":{"y":{"field":"f","type":"quantitative","title":"Accuracy"}}}]}]},
{"title":{"text":"country (n = 1676)","orient":"left","fontSize":5.6,"offset":2},"hconcat":[
{"width":181,"height":75,"title":"Accuracy by Popularity Bin","transform":[{"filter":"datum.r==8&&datum.p==1"}],"mark":{"type":"bar","color":"#483D8B"},"encoding":{"x":{"field":"i","type":"ordinal","title":null,"axis":{"labelExpr":"popL[datum.value]"}},"y":{"field":"v","type":"quantitative","title":"Accuracy","scale":{"domain":[0,0.903],"nice":false}}}},
{"width":181,"height":75,"title":"Confidence by Popularity Bin","transform":[{"filter":"datum.r==8&&datum.p==2"}],"mark":{"type":"bar","color":"#1f77b4"},"encoding":{"x":{"field":"i","type":"ordinal","title":null,"axis":{"labelExpr":"popL[datum.value]"}},"y":{"field":"v","type":"quantitative","title":"Confidence","scale":{"domain":[0,0.378],"nice":false}}}},
{"width":181,"height":75,"title":"Accuracy by Confidence Bin","transform":[{"filter":"datum.r==8&&datum.p==3"}],"encoding":{"x":{"field":"i","type":"ordinal","title":null,"axis":{"labelExpr":"confL[datum.value]"}}},"layer":[{"mark":{"type":"bar","color":"#2ca02c"},"encoding":{"y":{"field":"v","type":"quantitative","title":"Accuracy","scale":{"domain":[0,1.05],"nice":false}}}},{"mark":{"type":"bar","color":"#a9d8a6"},"encoding":{"y":{"field":"f","type":"quantitative","title":"Accuracy"}}}]},
{"width":181,"height":75,"title":"Accuracy by Confidence Bin (Qcut)","transform":[{"filter":"datum.r==8&&datum.p==4"}],"encoding":{"x":{"field":"i","type":"ordinal","title":null,"axis":{"labelExpr":"qL[datum.value]"}}},"layer":[{"mark":{"type":"bar","color":"#2ca02c"},"encoding":{"y":{"field":"v","type":"quantitative","title":"Accuracy","scale":{"domain":[0,1.05],"nice":false}}}},{"mark":{"type":"bar","color":"#a9d8a6"},"encoding":{"y":{"field":"f","type":"quantitative","title":"Accuracy"}}}]}]},
{"title":{"text":"producer (n = 3040)","orient":"left","fontSize":5.6,"offset":2},"hconcat":[
{"width":181,"height":75,"title":"Accuracy by Popularity Bin","transform":[{"filter":"datum.r==9&&datum.p==1"}],"mark":{"type":"bar","color":"#483D8B"},"encoding":{"x":{"field":"i","type":"ordinal","title":null,"axis":{"labelExpr":"popL[datum.value]"}},"y":{"field":"v","type":"quantitative","title":"Accuracy","scale":{"domain":[0,0.546],"nice":false}}}},
{"width":181,"height":75,"title":"Confidence by Popularity Bin","transform":[{"filter":"datum.r==9&&datum.p==2"}],"mark":{"type":"bar","color":"#1f77b4"},"encoding":{"x":{"field":"i","type":"ordinal","title":null,"axis":{"labelExpr":"popL[datum.value]"}},"y":{"field":"v","type":"quantitative","title":"Confidence","scale":{"domain":[0,0.473],"nice":false}}}},
{"width":181,"height":75,"title":"Accuracy by Confidence Bin","transform":[{"filter":"datum.r==9&&datum.p==3"}],"encoding":{"x":{"field":"i","type":"ordinal","title":null,"axis":{"labelExpr":"confL[datum.value]"}}},"layer":[{"mark":{"type":"bar","color":"#2ca02c"},"encoding":{"y":{"field":"v","type":"quantitative","title":"Accuracy","scale":{"domain":[0,0.746],"nice":false}}}},{"mark":{"type":"bar","color":"#a9d8a6"},"encoding":{"y":{"field":"f","type":"quantitative","title":"Accuracy"}}}]},
{"width":181,"height":75,"title":"Accuracy by Confidence Bin (Qcut)","transform":[{"filter":"datum.r==9&&datum.p==4"}],"encoding":{"x":{"field":"i","type":"ordinal","title":null,"axis":{"labelExpr":"qL[datum.value]"}}},"layer":[{"mark":{"type":"bar","color":"#2ca02c"},"encoding":{"y":{"field":"v","type":"quantitative","title":"Accuracy","scale":{"domain":[0,0.709],"nice":false}}}},{"mark":{"type":"bar","color":"#a9d8a6"},"encoding":{"y":{"field":"f","type":"quantitative","title":"Accuracy"}}}]}]},
{"title":{"text":"director (n = 3998)","orient":"left","fontSize":5.6,"offset":2},"hconcat":[
{"width":181,"height":75,"title":"Accuracy by Popularity Bin","transform":[{"filter":"datum.r==10&&datum.p==1"}],"mark":{"type":"bar","color":"#483D8B"},"encoding":{"x":{"field":"i","type":"ordinal","title":null,"axis":{"labelExpr":"popL[datum.value]"}},"y":{"field":"v","type":"quantitative","title":"Accuracy","scale":{"domain":[0,0.62],"nice":false}}}},
{"width":181,"height":75,"title":"Confidence by Popularity Bin","transform":[{"filter":"datum.r==10&&datum.p==2"}],"mark":{"type":"bar","color":"#1f77b4"},"encoding":{"x":{"field":"i","type":"ordinal","title":null,"axis":{"labelExpr":"popL[datum.value]"}},"y":{"field":"v","type":"quantitative","title":"Confidence","scale":{"domain":[0,0.546],"nice":false}}}},
{"width":181,"height":75,"title":"Accuracy by Confidence Bin","transform":[{"filter":"datum.r==10&&datum.p==3"}],"encoding":{"x":{"field":"i","type":"ordinal","title":null,"axis":{"labelExpr":"confL[datum.value]"}}},"layer":[{"mark":{"type":"bar","color":"#2ca02c"},"encoding":{"y":{"field":"v","type":"quantitative","title":"Accuracy","scale":{"domain":[0,0.693],"nice":false}}}},{"mark":{"type":"bar","color":"#a9d8a6"},"encoding":{"y":{"field":"f","type":"quantitative","title":"Accuracy"}}}]},
{"width":181,"height":75,"title":"Accuracy by Confidence Bin (Qcut)","transform":[{"filter":"datum.r==10&&datum.p==4"}],"encoding":{"x":{"field":"i","type":"ordinal","title":null,"axis":{"labelExpr":"qL[datum.value]"}}},"layer":[{"mark":{"type":"bar","color":"#2ca02c"},"encoding":{"y":{"field":"v","type":"quantitative","title":"Accuracy","scale":{"domain":[0,0.651],"nice":false}}}},{"mark":{"type":"bar","color":"#a9d8a6"},"encoding":{"y":{"field":"f","type":"quantitative","title":"Accuracy"}}}]}]},
{"title":{"text":"capital of (n = 726)","orient":"left","fontSize":5.6,"offset":2},"hconcat":[
{"width":181,"height":75,"title":"Accuracy by Popularity Bin","transform":[{"filter":"datum.r==11&&datum.p==1"}],"mark":{"type":"bar","color":"#483D8B"},"encoding":{"x":{"field":"i","type":"ordinal","title":null,"axis":{"labelExpr":"popL[datum.value]"}},"y":{"field":"v","type":"quantitative","title":"Accuracy","scale":{"domain":[0,0.746],"nice":false}}}},
{"width":181,"height":75,"title":"Confidence by Popularity Bin","transform":[{"filter":"datum.r==11&&datum.p==2"}],"mark":{"type":"bar","color":"#1f77b4"},"encoding":{"x":{"field":"i","type":"ordinal","title":null,"axis":{"labelExpr":"popL[datum.value]"}},"y":{"field":"v","type":"quantitative","title":"Confidence","scale":{"domain":[0,0.494],"nice":false}}}},
{"width":181,"height":75,"title":"Accuracy by Confidence Bin","transform":[{"filter":"datum.r==11&&datum.p==3"}],"encoding":{"x":{"field":"i","type":"ordinal","title":null,"axis":{"labelExpr":"confL[datum.value]"}}},"layer":[{"mark":{"type":"bar","color":"#2ca02c"},"encoding":{"y":{"field":"v","type":"quantitative","title":"Accuracy","scale":{"domain":[0,0.85],"nice":false}}}},{"mark":{"type":"bar","color":"#a9d8a6"},"encoding":{"y":{"field":"f","type":"quantitative","title":"Accuracy"}}}]},
{"width":181,"height":75,"title":"Accuracy by Confidence Bin (Qcut)","transform":[{"filter":"datum.r==11&&datum.p==4"}],"encoding":{"x":{"field":"i","type":"ordinal","title":null,"axis":{"labelExpr":"qL[datum.value]"}}},"layer":[{"mark":{"type":"bar","color":"#2ca02c"},"encoding":{"y":{"field":"v","type":"quantitative","title":"Accuracy","scale":{"domain":[0,0.893],"nice":false}}}},{"mark":{"type":"bar","color":"#a9d8a6"},"encoding":{"y":{"field":"f","type":"quantitative","title":"Accuracy"}}}]}]},
{"title":{"text":"screenwriter (n = 3998)","orient":"left","fontSize":5.6,"offset":2},"hconcat":[
{"width":181,"height":75,"title":"Accuracy by Popularity Bin","transform":[{"filter":"datum.r==12&&datum.p==1"}],"mark":{"type":"bar","color":"#483D8B"},"encoding":{"x":{"field":"i","type":"ordinal","title":null,"axis":{"labelExpr":"popL[datum.value]"}},"y":{"field":"v","type":"quantitative","title":"Accuracy","scale":{"domain":[0,0.614],"nice":false}}}},
{"width":181,"height":75,"title":"Confidence by Popularity Bin","transform":[{"filter":"datum.r==12&&datum.p==2"}],"mark":{"type":"bar","color":"#1f77b4"},"encoding":{"x":{"field":"i","type":"ordinal","title":null,"axis":{"labelExpr":"popL[datum.value]"}},"y":{"field":"v","type":"quantitative","title":"Confidence","scale":{"domain":[0,0.50],"nice":false}}}},
{"width":181,"height":75,"title":"Accuracy by Confidence Bin","transform":[{"filter":"datum.r==12&&datum.p==3"}],"encoding":{"x":{"field":"i","type":"ordinal","title":null,"axis":{"labelExpr":"confL[datum.value]"}}},"layer":[{"mark":{"type":"bar","color":"#2ca02c"},"encoding":{"y":{"field":"v","type":"quantitative","title":"Accuracy","scale":{"domain":[0,0.662],"nice":false}}}},{"mark":{"type":"bar","color":"#a9d8a6"},"encoding":{"y":{"field":"f","type":"quantitative","title":"Accuracy"}}}]},
{"width":181,"height":75,"title":"Accuracy by Confidence Bin (Qcut)","transform":[{"filter":"datum.r==12&&datum.p==4"}],"encoding":{"x":{"field":"i","type":"ordinal","title":null,"axis":{"labelExpr":"qL[datum.value]"}}},"layer":[{"mark":{"type":"bar","color":"#2ca02c"},"encoding":{"y":{"field":"v","type":"quantitative","title":"Accuracy","scale":{"domain":[0,0.81],"nice":false}}}},{"mark":{"type":"bar","color":"#a9d8a6"},"encoding":{"y":{"field":"f","type":"quantitative","title":"Accuracy"}}}]}]},
{"title":{"text":"composer (n = 1956)","orient":"left","fontSize":5.6,"offset":2},"hconcat":[
{"width":181,"height":75,"title":"Accuracy by Popularity Bin","transform":[{"filter":"datum.r==13&&datum.p==1"}],"mark":{"type":"bar","color":"#483D8B"},"encoding":{"x":{"field":"i","type":"ordinal","title":null,"axis":{"labelExpr":"popL[datum.value]"}},"y":{"field":"v","type":"quantitative","title":"Accuracy","scale":{"domain":[0,0.649],"nice":false}}}},
{"width":181,"height":75,"title":"Confidence by Popularity Bin","transform":[{"filter":"datum.r==13&&datum.p==2"}],"mark":{"type":"bar","color":"#1f77b4"},"encoding":{"x":{"field":"i","type":"ordinal","title":null,"axis":{"labelExpr":"popL[datum.value]"}},"y":{"field":"v","type":"quantitative","title":"Confidence","scale":{"domain":[0,0.499],"nice":false}}}},
{"width":181,"height":75,"title":"Accuracy by Confidence Bin","transform":[{"filter":"datum.r==13&&datum.p==3"}],"encoding":{"x":{"field":"i","type":"ordinal","title":null,"axis":{"labelExpr":"confL[datum.value]"}}},"layer":[{"mark":{"type":"bar","color":"#2ca02c"},"encoding":{"y":{"field":"v","type":"quantitative","title":"Accuracy","scale":{"domain":[0,0.85],"nice":false}}}},{"mark":{"type":"bar","color":"#a9d8a6"},"encoding":{"y":{"field":"f","type":"quantitative","title":"Accuracy"}}}]},
{"width":181,"height":75,"title":"Accuracy by Confidence Bin (Qcut)","transform":[{"filter":"datum.r==13&&datum.p==4"}],"encoding":{"x":{"field":"i","type":"ordinal","title":null,"axis":{"labelExpr":"qL[datum.value]"}}},"layer":[{"mark":{"type":"bar","color":"#2ca02c"},"encoding":{"y":{"field":"v","type":"quantitative","title":"Accuracy","scale":{"domain":[0,0.84],"nice":false}}}},{"mark":{"type":"bar","color":"#a9d8a6"},"encoding":{"y":{"field":"f","type":"quantitative","title":"Accuracy"}}}]}]},
{"title":{"text":"color (n = 68)","orient":"left","fontSize":5.6,"offset":2},"hconcat":[
{"width":181,"height":75,"title":"Accuracy by Popularity Bin","transform":[{"filter":"datum.r==14&&datum.p==1"}],"mark":{"type":"bar","color":"#483D8B"},"encoding":{"x":{"field":"i","type":"ordinal","title":null,"axis":{"labelExpr":"popL[datum.value]"}},"y":{"field":"v","type":"quantitative","title":"Accuracy","scale":{"domain":[0,1.05],"nice":false}}}},
{"width":181,"height":75,"title":"Confidence by Popularity Bin","transform":[{"filter":"datum.r==14&&datum.p==2"}],"mark":{"type":"bar","color":"#1f77b4"},"encoding":{"x":{"field":"i","type":"ordinal","title":null,"axis":{"labelExpr":"popL[datum.value]"}},"y":{"field":"v","type":"quantitative","title":"Confidence","scale":{"domain":[0,0.609],"nice":false}}}},
{"width":181,"height":75,"title":"Accuracy by Confidence Bin","transform":[{"filter":"datum.r==14&&datum.p==3"}],"encoding":{"x":{"field":"i","type":"ordinal","title":null,"axis":{"labelExpr":"confL[datum.value]"}}},"layer":[{"mark":{"type":"bar","color":"#2ca02c"},"encoding":{"y":{"field":"v","type":"quantitative","title":"Accuracy","scale":{"domain":[0,1.05],"nice":false}}}},{"mark":{"type":"bar","color":"#a9d8a6"},"encoding":{"y":{"field":"f","type":"quantitative","title":"Accuracy"}}}]},
{"width":181,"height":75,"title":"Accuracy by Confidence Bin (Qcut)","transform":[{"filter":"datum.r==14&&datum.p==4"}],"encoding":{"x":{"field":"i","type":"ordinal","title":null,"axis":{"labelExpr":"qL[datum.value]"}}},"layer":[{"mark":{"type":"bar","color":"#2ca02c"},"encoding":{"y":{"field":"v","type":"quantitative","title":"Accuracy","scale":{"domain":[0,1.05],"nice":false}}}},{"mark":{"type":"bar","color":"#a9d8a6"},"encoding":{"y":{"field":"f","type":"quantitative","title":"Accuracy"}}}]}]},
{"title":{"text":"religion (n = 676)","orient":"left","fontSize":5.6,"offset":2},"hconcat":[
{"width":181,"height":75,"title":"Accuracy by Popularity Bin","transform":[{"filter":"datum.r==15&&datum.p==1"}],"mark":{"type":"bar","color":"#483D8B"},"encoding":{"x":{"field":"i","type":"ordinal","title":null,"axis":{"labelExpr":"popL[datum.value]"}},"y":{"field":"v","type":"quantitative","title":"Accuracy","scale":{"domain":[0,0.851],"nice":false}}}},
{"width":181,"height":75,"title":"Confidence by Popularity Bin","transform":[{"filter":"datum.r==15&&datum.p==2"}],"mark":{"type":"bar","color":"#1f77b4"},"encoding":{"x":{"field":"i","type":"ordinal","title":null,"axis":{"labelExpr":"popL[datum.value]"}},"y":{"field":"v","type":"quantitative","title":"Confidence","scale":{"domain":[0,0.599],"nice":false}}}},
{"width":181,"height":75,"title":"Accuracy by Confidence Bin","transform":[{"filter":"datum.r==15&&datum.p==3"}],"encoding":{"x":{"field":"i","type":"ordinal","title":null,"axis":{"labelExpr":"confL[datum.value]"}}},"layer":[{"mark":{"type":"bar","color":"#2ca02c"},"encoding":{"y":{"field":"v","type":"quantitative","title":"Accuracy","scale":{"domain":[0,0.905],"nice":false}}}},{"mark":{"type":"bar","color":"#a9d8a6"},"encoding":{"y":{"field":"f","type":"quantitative","title":"Accuracy"}}}]},
{"width":181,"height":75,"title":"Accuracy by Confidence Bin (Qcut)","transform":[{"filter":"datum.r==15&&datum.p==4"}],"encoding":{"x":{"field":"i","type":"ordinal","title":null,"axis":{"labelExpr":"qL[datum.value]"}}},"layer":[{"mark":{"type":"bar","color":"#2ca02c"},"encoding":{"y":{"field":"v","type":"quantitative","title":"Accuracy","scale":{"domain":[0,0.998],"nice":false}}}},{"mark":{"type":"bar","color":"#a9d8a6"},"encoding":{"y":{"field":"f","type":"quantitative","title":"Accuracy"}}}]}]},
{"title":{"text":"sport (n = 1094)","orient":"left","fontSize":5.6,"offset":2},"hconcat":[
{"width":181,"height":75,"title":"Accuracy by Popularity Bin","transform":[{"filter":"datum.r==16&&datum.p==1"}],"mark":{"type":"bar","color":"#483D8B"},"encoding":{"x":{"field":"i","type":"ordinal","title":null,"axis":{"labelExpr":"popL[datum.value]"}},"y":{"field":"v","type":"quantitative","title":"Accuracy","scale":{"domain":[0,0.809],"nice":false}}}},
{"width":181,"height":75,"title":"Confidence by Popularity Bin","transform":[{"filter":"datum.r==16&&datum.p==2"}],"mark":{"type":"bar","color":"#1f77b4"},"encoding":{"x":{"field":"i","type":"ordinal","title":null,"axis":{"labelExpr":"popL[datum.value]"}},"y":{"field":"v","type":"quantitative","title":"Confidence","scale":{"domain":[0,0.378],"nice":false}}}},
{"width":181,"height":75,"title":"Accuracy by Confidence Bin","transform":[{"filter":"datum.r==16&&datum.p==3"}],"encoding":{"x":{"field":"i","type":"ordinal","title":null,"axis":{"labelExpr":"confL[datum.value]"}}},"layer":[{"mark":{"type":"bar","color":"#2ca02c"},"encoding":{"y":{"field":"v","type":"quantitative","title":"Accuracy","scale":{"domain":[0,1.04],"nice":false}}}},{"mark":{"type":"bar","color":"#a9d8a6"},"encoding":{"y":{"field":"f","type":"quantitative","title":"Accuracy"}}}]},
{"width":181,"height":75,"title":"Accuracy by Confidence Bin (Qcut)","transform":[{"filter":"datum.r==16&&datum.p==4"}],"encoding":{"x":{"field":"i","type":"ordinal","title":null,"axis":{"labelExpr":"qL[datum.value]"}}},"layer":[{"mark":{"type":"bar","color":"#2ca02c"},"encoding":{"y":{"field":"v","type":"quantitative","title":"Accuracy","scale":{"domain":[0,1.04],"nice":false}}}},{"mark":{"type":"bar","color":"#a9d8a6"},"encoding":{"y":{"field":"f","type":"quantitative","title":"Accuracy"}}}]}]},
{"title":{"text":"author (n = 3028)","orient":"left","fontSize":5.6,"offset":2},"hconcat":[
{"width":181,"height":75,"title":"Accuracy by Popularity Bin","transform":[{"filter":"datum.r==17&&datum.p==1"}],"mark":{"type":"bar","color":"#483D8B"},"encoding":{"x":{"field":"i","type":"ordinal","title":null,"axis":{"labelExpr":"popL[datum.value]"}},"y":{"field":"v","type":"quantitative","title":"Accuracy","scale":{"domain":[0,0.746],"nice":false}}}},
{"width":181,"height":75,"title":"Confidence by Popularity Bin","transform":[{"filter":"datum.r==17&&datum.p==2"}],"mark":{"type":"bar","color":"#1f77b4"},"encoding":{"x":{"field":"i","type":"ordinal","title":null,"axis":{"labelExpr":"popL[datum.value]"}},"y":{"field":"v","type":"quantitative","title":"Confidence","scale":{"domain":[0,0.499],"nice":false}}}},
{"width":181,"height":75,"title":"Accuracy by Confidence Bin","transform":[{"filter":"datum.r==17&&datum.p==3"}],"encoding":{"x":{"field":"i","type":"ordinal","title":null,"axis":{"labelExpr":"confL[datum.value]"}}},"layer":[{"mark":{"type":"bar","color":"#2ca02c"},"encoding":{"y":{"field":"v","type":"quantitative","title":"Accuracy","scale":{"domain":[0,0.746],"nice":false}}}},{"mark":{"type":"bar","color":"#a9d8a6"},"encoding":{"y":{"field":"f","type":"quantitative","title":"Accuracy"}}}]},
{"width":181,"height":75,"title":"Accuracy by Confidence Bin (Qcut)","transform":[{"filter":"datum.r==17&&datum.p==4"}],"encoding":{"x":{"field":"i","type":"ordinal","title":null,"axis":{"labelExpr":"qL[datum.value]"}}},"layer":[{"mark":{"type":"bar","color":"#2ca02c"},"encoding":{"y":{"field":"v","type":"quantitative","title":"Accuracy","scale":{"domain":[0,0.746],"nice":false}}}},{"mark":{"type":"bar","color":"#a9d8a6"},"encoding":{"y":{"field":"f","type":"quantitative","title":"Accuracy"}}}]}]},
{"title":{"text":"mother (n = 374)","orient":"left","fontSize":5.6,"offset":2},"hconcat":[
{"width":181,"height":75,"title":"Accuracy by Popularity Bin","transform":[{"filter":"datum.r==18&&datum.p==1"}],"mark":{"type":"bar","color":"#483D8B"},"encoding":{"x":{"field":"i","type":"ordinal","title":null,"axis":{"labelExpr":"popL[datum.value]"}},"y":{"field":"v","type":"quantitative","title":"Accuracy","scale":{"domain":[0,0.898],"nice":false}}}},
{"width":181,"height":75,"title":"Confidence by Popularity Bin","transform":[{"filter":"datum.r==18&&datum.p==2"}],"mark":{"type":"bar","color":"#1f77b4"},"encoding":{"x":{"field":"i","type":"ordinal","title":null,"axis":{"labelExpr":"popL[datum.value]"}},"y":{"field":"v","type":"quantitative","title":"Confidence","scale":{"domain":[0,0.546],"nice":false}}}},
{"width":181,"height":75,"title":"Accuracy by Confidence Bin","transform":[{"filter":"datum.r==18&&datum.p==3"}],"encoding":{"x":{"field":"i","type":"ordinal","title":null,"axis":{"labelExpr":"confL[datum.value]"}}},"layer":[{"mark":{"type":"bar","color":"#2ca02c"},"encoding":{"y":{"field":"v","type":"quantitative","title":"Accuracy","scale":{"domain":[0,1.05],"nice":false}}}},{"mark":{"type":"bar","color":"#a9d8a6"},"encoding":{"y":{"field":"f","type":"quantitative","title":"Accuracy"}}}]},
{"width":181,"height":75,"title":"Accuracy by Confidence Bin (Qcut)","transform":[{"filter":"datum.r==18&&datum.p==4"}],"encoding":{"x":{"field":"i","type":"ordinal","title":null,"axis":{"labelExpr":"qL[datum.value]"}}},"layer":[{"mark":{"type":"bar","color":"#2ca02c"},"encoding":{"y":{"field":"v","type":"quantitative","title":"Accuracy","scale":{"domain":[0,1.05],"nice":false}}}},{"mark":{"type":"bar","color":"#a9d8a6"},"encoding":{"y":{"field":"f","type":"quantitative","title":"Accuracy"}}}]}]},
{"title":{"text":"capital (n = 1290)","orient":"left","fontSize":5.6,"offset":2},"hconcat":[
{"width":181,"height":75,"title":"Accuracy by Popularity Bin","transform":[{"filter":"datum.r==19&&datum.p==1"}],"mark":{"type":"bar","color":"#483D8B"},"encoding":{"x":{"field":"i","type":"ordinal","title":null,"axis":{"labelExpr":"popL[datum.value]"}},"y":{"field":"v","type":"quantitative","title":"Accuracy","scale":{"domain":[0,0.922],"nice":false}}}},
{"width":181,"height":75,"title":"Confidence by Popularity Bin","transform":[{"filter":"datum.r==19&&datum.p==2"}],"mark":{"type":"bar","color":"#1f77b4"},"encoding":{"x":{"field":"i","type":"ordinal","title":null,"axis":{"labelExpr":"popL[datum.value]"}},"y":{"field":"v","type":"quantitative","title":"Confidence","scale":{"domain":[0,0.552],"nice":false}}}},
{"width":181,"height":75,"title":"Accuracy by Confidence Bin","transform":[{"filter":"datum.r==19&&datum.p==3"}],"encoding":{"x":{"field":"i","type":"ordinal","title":null,"axis":{"labelExpr":"confL[datum.value]"}}},"layer":[{"mark":{"type":"bar","color":"#2ca02c"},"encoding":{"y":{"field":"v","type":"quantitative","title":"Accuracy","scale":{"domain":[0,0.965],"nice":false}}}},{"mark":{"type":"bar","color":"#a9d8a6"},"encoding":{"y":{"field":"f","type":"quantitative","title":"Accuracy"}}}]},
{"width":181,"height":75,"title":"Accuracy by Confidence Bin (Qcut)","transform":[{"filter":"datum.r==19&&datum.p==4"}],"encoding":{"x":{"field":"i","type":"ordinal","title":null,"axis":{"labelExpr":"qL[datum.value]"}}},"layer":[{"mark":{"type":"bar","color":"#2ca02c"},"encoding":{"y":{"field":"v","type":"quantitative","title":"Accuracy","scale":{"domain":[0,0.965],"nice":false}}}},{"mark":{"type":"bar","color":"#a9d8a6"},"encoding":{"y":{"field":"f","type":"quantitative","title":"Accuracy"}}}]}]}
],
"config":{"view":{"fill":"#E5E5E5","stroke":null},"font":"Liberation Serif","concat":{"spacing":1},"title":{"fontSize":5.2,"fontWeight":"normal","offset":0.5,"color":"#222222","anchor":"middle"},"axis":{"grid":true,"gridColor":"#FFFFFF","gridWidth":0.6,"domain":false,"ticks":false,"labelFontSize":3.3,"labelColor":"#555555","titleFontSize":4,"titleFontWeight":"normal","titleColor":"#555555","labelPadding":1,"titlePadding":0.5},"axisX":{"labelAngle":0,"labelOverlap":false,"minExtent":3,"maxExtent":3,"bandPosition":0.5,"labelBound":false,"labelPadding":0.5},"axisY":{"tickCount":6,"minExtent":7.5,"maxExtent":7.5},"bar":{"stroke":"#EEEEEE","strokeWidth":0.5},"scale":{"bandPaddingInner":0.2,"bandPaddingOuter":0.49}}}
